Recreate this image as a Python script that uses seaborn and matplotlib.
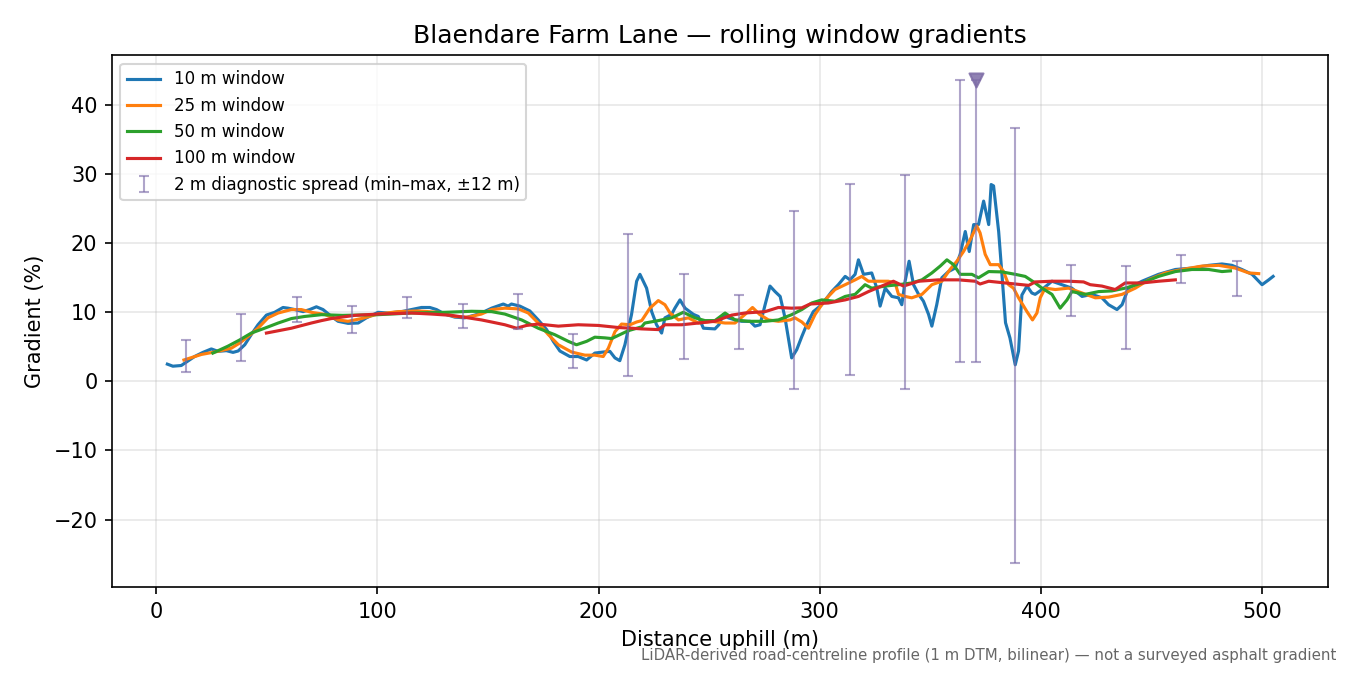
import numpy as np
import matplotlib
matplotlib.use("Agg")
import matplotlib.pyplot as plt
import seaborn as sns

# 10 m rolling window
dist_10 = [5, 7.5, 11.3, 13.6, 17.3, 21.1, 24.9, 27.9, 31.7, 34.7, 37, 40, 43, 46, 49.8, 53.5, 57.3,
           59.6, 62.6, 66.4, 69.4, 72.4, 75.4, 79.2, 82.2, 86.7, 91.3, 95, 100.3, 104.8, 110.9, 115.4,
           119.9, 123.7, 126.7, 130.4, 135, 139.5, 144, 147, 151.6, 156.9, 159.1, 160.6, 164.4, 168.9,
           172.7, 176.5, 179.5, 182.5, 187, 190.8, 194.6, 198.3, 202.1, 205.1, 207.4, 209.6, 211.9,
           214.9, 217.2, 218.7, 221.7, 224, 226.2, 228.5, 230, 233, 234.5, 236.8, 239.1, 242.9, 245.1,
           247.4, 252.6, 254.4, 256.4, 258.7, 261.7, 264.7, 268.5, 270.7, 273, 275.3, 277.5, 279.8,
           282.1, 284.3, 285.8, 287.3, 289.6, 291.9, 294.1, 297.1, 300.9, 305.4, 308.4, 311.5, 313.7,
           316, 317.5, 319.8, 323.5, 325.8, 327.3, 329.6, 332.6, 335.6, 337.1, 338.6, 340.4, 342.4,
           344.7, 346.9, 349.2, 350.7, 352.9, 355.2, 358.2, 361.2, 363.5, 365.8, 367.6, 369.6, 371.8,
           374.1, 376.4, 377.5, 378.6, 380.9, 382.5, 384, 386, 388.4, 389.9, 391.4, 393.7, 395.9,
           397.4, 400.5, 405, 409.5, 414, 418.6, 423.1, 427.6, 430.6, 434.4, 436.7, 439.6, 445.7,
           453.2, 460.8, 468.3, 475.9, 481.9, 486.4, 490.9, 495.5, 500, 503, 505]
grad_10 = [2.5, 2.2, 2.3, 2.8, 3.6, 4.2, 4.7, 4.35, 4.45, 4.2, 4.4, 5.3, 6.8, 8.2, 9.6, 10.0, 10.7,
           10.6, 10.4, 10.1, 10.4, 10.8, 10.4, 9.4, 8.7, 8.4, 8.45, 9.2, 10.0, 9.9, 10.1, 10.4,
           10.7, 10.7, 10.4, 9.75, 9.3, 9.2, 9.6, 9.9, 10.6, 11.2, 10.9, 11.2, 10.9, 10.2,
           8.9, 7.5, 5.8, 4.4, 3.6, 3.6, 3.1, 4.1, 4.25, 4.35, 3.4, 3.0, 5.3,
           9.7, 14.5, 15.5, 13.5, 10.1, 8.2, 7.0, 9.2, 9.7, 10.6, 11.8, 10.6, 9.7, 9.4,
           7.7, 7.6, 8.2, 9.7, 9.2, 8.9, 8.7, 8.7, 8.0, 8.2, 11.1, 13.8, 13.0,
           12.3, 9.2, 6.3, 3.4, 4.6, 6.5, 8.2, 10.1, 11.1, 13.0, 14.0, 15.2, 14.7,
           15.5, 17.6, 15.5, 15.7, 13.5, 10.9, 13.5, 12.3, 12.1, 11.1, 14.5, 17.4, 14.0,
           12.6, 11.6, 9.7, 8.0, 11.1, 15.0, 15.9, 16.4, 18.4, 21.7, 18.8, 22.7, 22.7,
           26.1, 22.7, 28.5, 28.3, 21.7, 15.0, 8.5, 6.3, 2.4, 4.4, 12.5, 13.8, 12.8,
           12.6, 13.3, 14.5, 14.0, 13.5, 12.3, 12.6, 12.1, 11.1, 10.4, 11.1, 13.5, 14.5,
           15.5, 16.2, 16.4, 16.8, 17.0, 16.8, 16.2, 15.5, 14.0, 14.7, 15.2]

# 25 m rolling window
dist_25 = [12.5, 20.4, 27.9, 33.9, 37.7, 41.5, 46, 50.5, 55.1, 61.1, 65.6, 70.1, 76.2, 82.2, 86.7,
           92.8, 100.3, 109.4, 118.4, 127.5, 135, 141, 147, 151.6, 157.6, 163.7, 168.2, 172.7, 177.2,
           181.8, 187.8, 193.8, 198.3, 202.1, 204.4, 207.4, 210.4, 214.2, 217.2, 219.5, 223.2, 227,
           230, 232.3, 236.1, 240.6, 245.1, 251.1, 257.2, 261.7, 266.2, 269.6, 272.8, 276.8, 281.3,
           286.6, 288.8, 291.9, 294.9, 297.9, 302.4, 306.9, 311.5, 316, 319, 322, 326.5, 331, 334.1,
           335.6, 338.6, 341.6, 346.2, 350.7, 355.2, 358.9, 362, 365, 368, 371, 372.5, 374.8, 377.1,
           380.9, 383.1, 385.4, 387.6, 389.9, 393.7, 396.2, 398.2, 399.7, 401.9, 406.5, 412.5, 418.6,
           424.6, 430.6, 436.7, 442.7, 448.7, 456.2, 463.8, 472.9, 480.4, 487.9, 494, 498.5]
grad_25 = [3.1, 3.9, 4.35, 4.8, 5.55, 6.5, 7.7, 9.2, 9.9, 10.4, 10.4, 10.0, 9.7, 8.9, 8.7,
           9.1, 9.75, 10.1, 10.2, 10.0, 9.4, 9.3, 9.75, 10.4, 10.6, 10.5, 9.9, 8.45, 6.8,
           5.3, 4.25, 3.8, 3.8, 3.6, 4.8, 7.2, 8.3, 8.2, 8.6, 8.8, 10.6, 11.7,
           11.1, 9.9, 8.9, 9.2, 8.45, 8.7, 8.45, 8.45, 9.7, 10.7, 9.7, 8.9, 8.7,
           8.9, 9.2, 8.6, 7.7, 9.7, 11.8, 13.3, 14.0, 14.7, 15.2, 14.5, 14.5, 14.5, 14.25,
           12.6, 12.3, 12.1, 12.6, 14.0, 14.5, 16.2, 17.4, 18.8, 20.5, 22.5, 21.5, 18.4, 16.9,
           16.9, 15.9, 14.0, 13.5, 12.1, 10.1, 8.9, 9.9, 12.1, 13.5, 13.3, 13.5, 12.8,
           12.1, 12.2, 12.6, 13.5, 14.7, 15.7, 16.2, 16.7, 16.8, 16.4, 15.7, 15.6]

# 50 m rolling window
dist_50 = [25.6, 32.4, 37.7, 43, 49, 55.1, 61.1, 67.1, 74.7, 84.2, 100.3, 115.4, 130.4, 142.5, 151.6,
           157.6, 165.2, 172.7, 180.2, 186.3, 190, 194.6, 198.3, 202.9, 205.9, 209.6, 213.4, 219.5,
           220.9, 227, 233, 238.3, 243.6, 248.1, 252.6, 257.2, 261.7, 267.7, 275.3, 281.3, 287.3,
           291.9, 296.4, 300.9, 306.9, 311.5, 316, 320.5, 323.5, 329.6, 335.6, 341.6, 346.2, 350.7,
           354.5, 357.5, 360.5, 363.5, 368.8, 371.8, 376.4, 382.4, 388.4, 392.9, 397.4, 400.5, 405,
           408.7, 411.8, 414, 420, 426.1, 432.1, 438.1, 445.7, 453.2, 460.8, 468.3, 475.9, 481.9, 485.7]
grad_50 = [4.1, 5.1, 6.0, 7.0, 7.7, 8.45, 9.1, 9.4, 9.66, 9.56, 9.66, 9.9, 10.0, 10.15, 10.1,
           9.75, 8.9, 7.7, 6.76, 5.8, 5.3, 5.8, 6.4, 6.3, 6.2, 6.76, 7.34, 7.9,
           8.45, 8.8, 9.2, 10.0, 9.2, 8.8, 8.8, 9.9, 8.9, 8.7, 8.7, 8.9, 9.66,
           10.4, 11.35, 11.8, 11.6, 12.3, 12.6, 14.0, 13.5, 13.8, 14.0, 14.25, 14.7, 15.7,
           16.7, 17.6, 16.9, 15.5, 15.5, 15.0, 15.9, 15.85, 15.5, 15.2, 14.25, 13.5, 12.6,
           10.6, 11.8, 13.0, 12.6, 13.0, 13.1, 13.5, 14.25, 15.2, 15.9, 16.2, 16.2, 15.9, 16.0]

# 100 m rolling window
dist_100 = [49.8, 61.1, 70.1, 74.7, 79.2, 89.7, 100.3, 115.4, 124.4, 133.5, 141, 147, 151.6, 157.6,
            162.9, 167.4, 172.7, 181.8, 190.8, 199.9, 208.9, 214.9, 219.5, 227, 230, 237.6, 245.1,
            252.6, 260.2, 266.2, 275.3, 281.3, 287.3, 291.9, 295.6, 303.9, 311.5, 317.5, 322, 328,
            333.3, 337.9, 344.7, 353.7, 362.7, 370.3, 372.5, 376.4, 383.8, 394.5, 397.4, 405, 412.5,
            419.3, 422.3, 427.6, 433.6, 438.1, 445.7, 453.2, 460.8]
grad_100 = [7.0, 7.7, 8.45, 8.8, 9.1, 9.56, 9.75, 9.9, 9.75, 9.56, 9.2, 8.9, 8.6, 8.2,
            7.7, 8.1, 8.3, 8.0, 8.2, 8.1, 7.8, 7.7, 7.6, 7.5, 8.2, 8.2, 8.45,
            8.7, 9.6, 9.9, 10.1, 10.7, 10.6, 10.65, 11.2, 11.35, 11.8, 12.3, 13.0, 13.8,
            14.5, 13.8, 14.5, 14.7, 14.7, 14.5, 14.1, 14.5, 14.25, 13.9, 14.4, 14.5, 14.5,
            14.4, 14.0, 13.8, 13.3, 14.25, 14.25, 14.5, 14.7]

# 2 m diagnostic spread (min-max within +-12 m)
spread_x = [13.5, 38.5, 63.5, 88.5, 113.5, 138.5, 163.5, 188.5, 213.5, 238.5, 263.5, 288.5,
            313.5, 338.5, 363.5, 370.5, 388.5, 413.5, 438.5, 463.5, 488.5]
spread_lo = [1.3, 2.95, 8.55, 7.0, 9.2, 7.7, 7.6, 1.9, 0.8, 3.2, 4.7, -1.1,
             0.9, -1.1, 2.8, 2.8, -26.3, 9.4, 4.7, 14.2, 12.4]
spread_hi = [6.0, 9.75, 12.2, 10.9, 12.2, 11.2, 12.65, 6.9, 21.4, 15.55, 12.5, 24.6,
             28.55, 29.86, 43.6, 43.7, 36.7, 16.8, 16.7, 18.3, 17.4]

# steepest 2 m sample
peak_x = [370.5]
peak_y = [43.7]

fig, ax = plt.subplots(figsize=(9, 4.5), dpi=150)
fig.subplots_adjust(left=0.083, right=0.984, top=0.918, bottom=0.13)

series = [
    (dist_10, grad_10, "10 m window", "C0"),
    (dist_25, grad_25, "25 m window", "C1"),
    (dist_50, grad_50, "50 m window", "C2"),
    (dist_100, grad_100, "100 m window", "C3"),
]
for xs, ys, lab, col in series:
    sns.lineplot(x=xs, y=ys, ax=ax, label=lab, color=col, linewidth=1.5)

lo = np.array(spread_lo)
hi = np.array(spread_hi)
mid = (lo + hi) / 2
ax.errorbar(spread_x, mid, yerr=[mid - lo, hi - mid], fmt="none", ecolor="#7b6aa8",
            alpha=0.6, elinewidth=1.0, capsize=2.5,
            label="2 m diagnostic spread (min\u2013max, \u00b112 m)")
ax.scatter(peak_x, peak_y, marker="v", s=45, color="#7d6ca6", alpha=0.85, zorder=5)

ax.grid(True, alpha=0.3)
ax.set_xlabel("Distance uphill (m)")
ax.set_ylabel("Gradient (%)")
ax.set_title("Blaendare Farm Lane \u2014 rolling window gradients", fontsize=12)
ax.legend(loc="upper left", fontsize=8)

fig.text(0.99, 0.018,
         "LiDAR-derived road-centreline profile (1 m DTM, bilinear) \u2014 not a surveyed asphalt gradient",
         ha="right", va="bottom", fontsize=7.2, color="#666666")

fig.savefig("out.png", dpi=150)
